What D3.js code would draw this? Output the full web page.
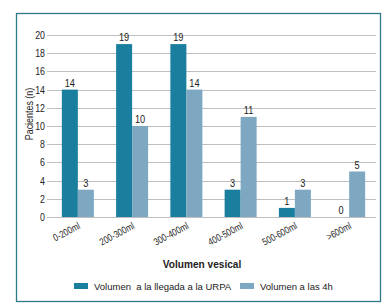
<!DOCTYPE html>
<html>
<head>
<meta charset="utf-8">
<script src="https://cdn.jsdelivr.net/npm/d3@7"></script>
<style>
  body { margin: 0; background: #fff; }
  svg { display: block; }
</style>
</head>
<body>
<svg id="chart"></svg>
<script>
const categories = ["0-200ml", "200-300ml", "300-400ml", "400-500ml", "500-600ml", ">600ml"];
const series = ["Volumen  a la llegada a la URPA", "Volumen a las 4h"];
const llegada = [14, 19, 19, 3, 1, 0];
const cuatroH = [3, 10, 14, 11, 3, 5];
const yTicks = [0, 2, 4, 6, 8, 10, 12, 14, 16, 18, 20];

const width = 391, height = 308;
const colors = ["#1a7f9f", "#7ea8c2"];
const font = "'Liberation Sans', Arial, sans-serif";
const squeeze = 0.8; // fake a narrow face

const svg = d3.select("#chart").attr("width", width).attr("height", height);

// frame
svg.append("rect")
  .attr("x", 16.5).attr("y", 13.5)
  .attr("width", 364).attr("height", 288)
  .attr("fill", "none")
  .attr("stroke", "#2e7a87")
  .attr("stroke-width", 1.3);

const x = d3.scaleBand()
  .domain(categories)
  .range([51, 376])
  .paddingInner(0.41)
  .paddingOuter(0.2);

const xs = d3.scaleBand()
  .domain([0, 1])
  .range([0, x.bandwidth()]);

const y = d3.scaleLinear().domain([0, 20]).range([217, 35]);

// gridlines + y labels
const grid = svg.append("g");
grid.selectAll("line")
  .data(yTicks)
  .join("line")
  .attr("x1", 47).attr("x2", 376)
  .attr("y1", d => Math.round(y(d)) + 0.5)
  .attr("y2", d => Math.round(y(d)) + 0.5)
  .attr("stroke", "#bfbfbf")
  .attr("stroke-width", 1);

grid.selectAll("text")
  .data(yTicks)
  .join("text")
  .attr("transform", d => `translate(45,${y(d) + 4}) scale(${squeeze},1)`)
  .attr("text-anchor", "end")
  .style("font-family", font)
  .style("font-size", "11px")
  .attr("fill", "#222")
  .text(d => d);

// bars
const data = categories.map((c, i) => ({ cat: c, vals: [llegada[i], cuatroH[i]] }));

const groups = svg.append("g").selectAll("g")
  .data(data)
  .join("g")
  .attr("transform", d => `translate(${x(d.cat)},0)`);

groups.selectAll("rect")
  .data(d => d.vals.map((v, k) => ({ k, v })))
  .join("rect")
  .attr("x", d => xs(d.k))
  .attr("width", xs.bandwidth())
  .attr("y", d => y(d.v))
  .attr("height", d => y(0) - y(d.v))
  .attr("fill", d => colors[d.k]);

groups.selectAll("text")
  .data(d => d.vals.map((v, k) => ({ k, v })))
  .join("text")
  .attr("transform", d => `translate(${xs(d.k) + xs.bandwidth() / 2},${y(d.v) - 3}) scale(${squeeze},1)`)
  .attr("text-anchor", "middle")
  .style("font-family", font)
  .style("font-size", "11.5px")
  .attr("fill", "#222")
  .text(d => d.v);

// x labels
svg.append("g").selectAll("text")
  .data(categories)
  .join("text")
  .attr("transform", d => `translate(${x(d) + x.bandwidth() / 2 + 3},${228}) rotate(-28) scale(${squeeze},1)`)
  .attr("text-anchor", "end")
  .style("font-family", font)
  .style("font-size", "10px")
  .attr("fill", "#222")
  .text(d => d);

// axis titles
svg.append("text")
  .attr("transform", "translate(33,114) rotate(-90) scale(0.85,1)")
  .attr("text-anchor", "middle")
  .style("font-family", font)
  .style("font-size", "10.5px")
  .attr("fill", "#222")
  .text("Pacientes (n)");

svg.append("text")
  .attr("transform", "translate(202,268) scale(0.88,1)")
  .attr("text-anchor", "middle")
  .style("font-family", font)
  .style("font-weight", "bold")
  .style("font-size", "11.5px")
  .attr("fill", "#222")
  .text("Volumen vesical");

// legend
const legendX = [74, 240];
const legend = svg.append("g").selectAll("g")
  .data(series)
  .join("g")
  .attr("transform", (d, i) => `translate(${legendX[i]},283)`);

legend.append("rect")
  .attr("width", 14).attr("height", 6)
  .attr("fill", (d, i) => colors[i]);

legend.append("text")
  .attr("x", 20).attr("y", 6.5)
  .style("font-family", font)
  .style("font-size", "9.5px")
  .attr("fill", "#222")
  .style("white-space", "pre")
  .attr("xml:space", "preserve")
  .text(d => d);
</script>
</body>
</html>
